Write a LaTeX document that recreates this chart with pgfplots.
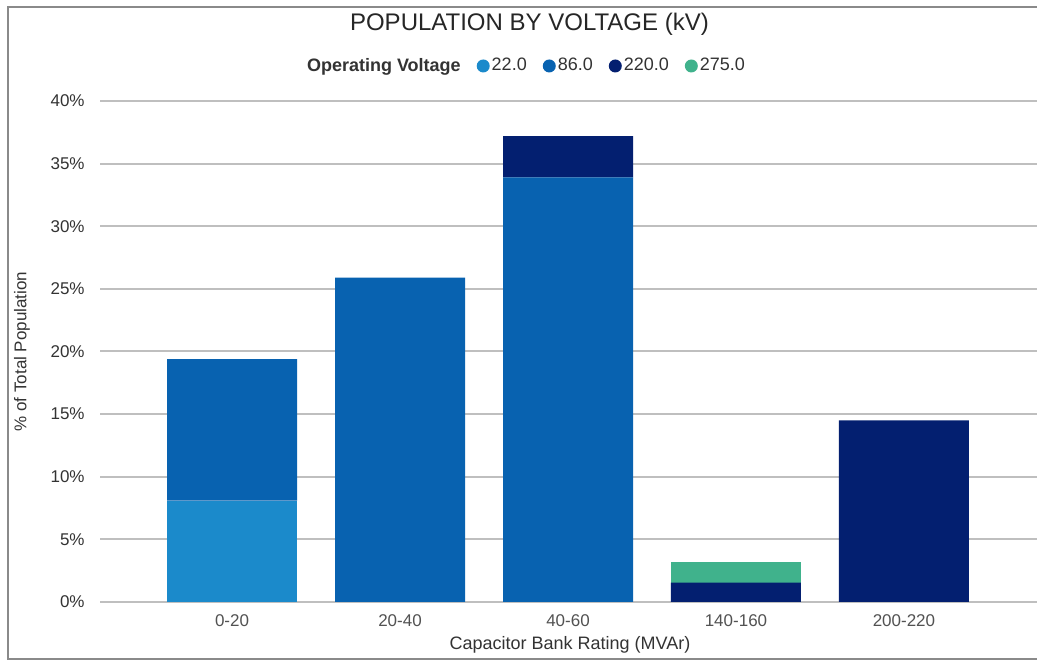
\documentclass[border=0pt]{standalone}
\usepackage{pgfplots}
\pgfplotsset{compat=1.18}
\usepackage{fontspec}
\setmainfont{Liberation Sans}
\definecolor{cA}{HTML}{1B8ACB}
\definecolor{cB}{HTML}{0862B0}
\definecolor{cC}{HTML}{031F70}
\definecolor{cD}{HTML}{40B28C}
\definecolor{txt}{HTML}{333333}
\definecolor{frame}{HTML}{8A8A8A}
\begin{document}
\begin{tikzpicture}
\useasboundingbox (0,0) rectangle (518.5pt,331pt);
\fill[white] (0,0) rectangle (518.5pt,331pt);
\draw[frame, line width=1pt] (518.5pt,1.5pt) -- (3.75pt,1.5pt) -- (3.75pt,327.5pt) -- (518.5pt,327.5pt);
\begin{axis}[
  at={(50pt,30pt)}, anchor=south west,
  scale only axis, width=468.5pt, height=250.5pt,
  ybar stacked, bar width=65pt,
  xmin=-0.786, xmax=4.792, ymin=0, ymax=40,
  xtick={0,1,2,3,4},
  xticklabels={0-20,20-40,40-60,140-160,200-220},
  ytick={0,5,...,40},
  yticklabel={\pgfmathprintnumber{\tick}\%},
  /pgf/number format/assume math mode=true,
  major tick length=0pt,
  axis line style={draw=none},
  ymajorgrids, grid style={color=black!25, line width=1pt},
  y tick label style={font=\fontsize{8.5}{10}\selectfont, text=txt, inner sep=0pt, xshift=-7.5pt},
  x tick label style={font=\fontsize{8.5}{10}\selectfont, text=txt!85, inner sep=0pt, yshift=-6pt},
  xlabel={Capacitor Bank Rating (MVAr)},
  xlabel style={font=\fontsize{9}{11}\selectfont, text=txt, at={(axis description cs:0.5016,-0.0858)}, anchor=center},
  ylabel={\% of Total Population},
  ylabel style={font=\fontsize{8.5}{10}\selectfont, text=txt, at={(axis description cs:-0.0832,0.5)}, anchor=center, rotate=0},
  title={POPULATION BY VOLTAGE (kV)},
  title style={font=\fontsize{12}{14}\selectfont, text=black!85, at={(axis description cs:0.4583,1.1298)}, anchor=center},
  legend columns=-1,
  legend style={draw=none, fill=none, font=\fontsize{9}{11}\selectfont, text=txt,
    at={(axis description cs:0.4546,1.0699)}, anchor=center,
    /tikz/every even column/.append style={column sep=7pt},
    nodes={inner sep=1pt}},
]
\addlegendimage{empty legend}
\addlegendentry{\textbf{Operating Voltage}}
\addplot[fill=cA, draw=none, legend image code/.code={\fill[cA] (0pt,0pt) circle (3.25pt);}]
  coordinates {(0,8.1) (1,0) (2,0) (3,0) (4,0)};
\addlegendentry{22.0}
\addplot[fill=cB, draw=none, legend image code/.code={\fill[cB] (0pt,0pt) circle (3.25pt);}]
  coordinates {(0,11.3) (1,25.9) (2,33.9) (3,0) (4,0)};
\addlegendentry{86.0}
\addplot[fill=cC, draw=none, legend image code/.code={\fill[cC] (0pt,0pt) circle (3.25pt);}]
  coordinates {(0,0) (1,0) (2,3.3) (3,1.55) (4,14.5)};
\addlegendentry{220.0}
\addplot[fill=cD, draw=none, legend image code/.code={\fill[cD] (0pt,0pt) circle (3.25pt);}]
  coordinates {(0,0) (1,0) (2,0) (3,1.67) (4,0)};
\addlegendentry{275.0}
\end{axis}
\end{tikzpicture}
\end{document}
